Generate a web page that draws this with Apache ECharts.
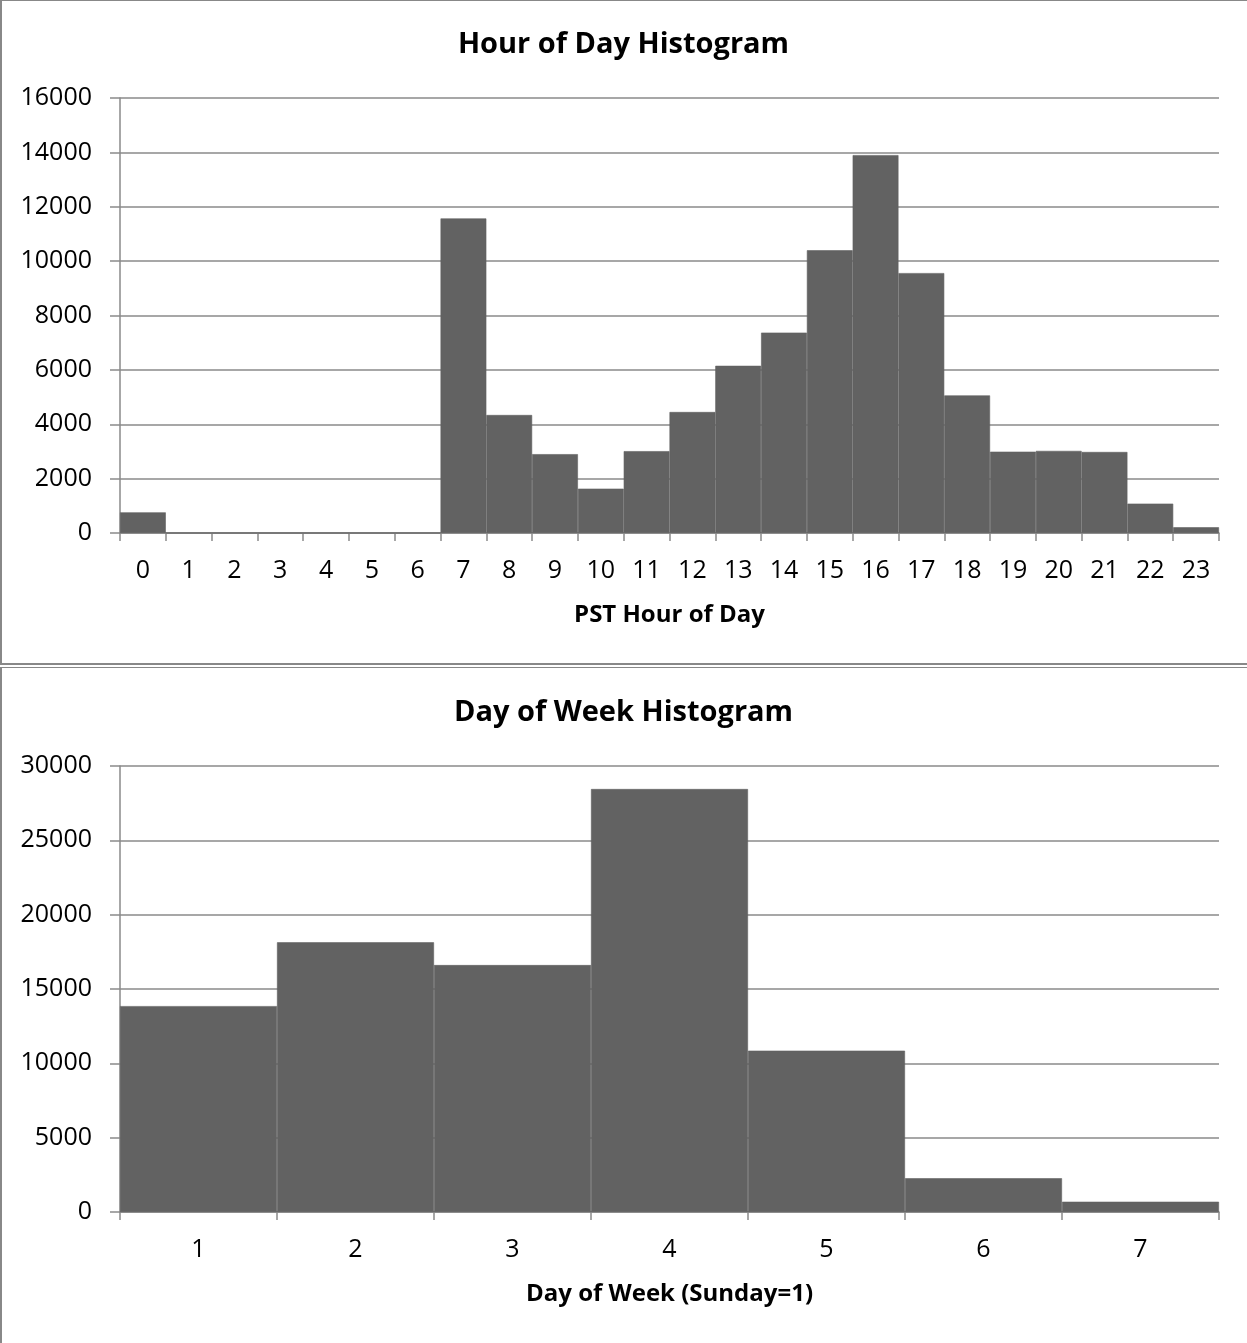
<!DOCTYPE html>
<html>
<head>
<meta charset="utf-8">
<title>Hour of Day / Day of Week Histograms</title>
<script src="https://cdn.jsdelivr.net/npm/echarts@6/dist/echarts.min.js"></script>
<style>
  html, body { margin: 0; padding: 0; background: #fff; }
  body { width: 1247px; height: 1343px; position: relative; overflow: hidden; }
  .frame { position: absolute; left: 0; width: 1300px; border-style: solid; border-color: #888; border-right: none; box-sizing: border-box; }
  #frameTop { top: 0; height: 665px; border-width: 1px 0 2px 2px; }
  #frameBottom { top: 667px; height: 720px; border-width: 1px 0 0 2px; }
  #chart { position: absolute; left: 0; top: 0; width: 1247px; height: 1343px; }
</style>
</head>
<body>
<div class="frame" id="frameTop"></div>
<div class="frame" id="frameBottom"></div>
<div id="chart"></div>
<script>
// Hour-of-day counts (PST)
const hourCategories = ['0','1','2','3','4','5','6','7','8','9','10','11','12','13','14','15','16','17','18','19','20','21','22','23'];
const hourCounts = [760, 0, 0, 0, 0, 0, 0, 11570, 4340, 2900, 1630, 3010, 4450, 6150, 7370, 10400, 13900, 9560, 5060, 2990, 3020, 2980, 1080, 210];

// Day-of-week counts (Sunday = 1)
const dayCategories = ['1','2','3','4','5','6','7'];
const dayCounts = [13850, 18140, 16610, 28450, 10850, 2270, 690];

const FONT = '"Open Sans", "Noto Sans", sans-serif';
const AXIS_GRAY = '#8a8a8a';
const BAR_GRAY = '#626262';

function xAxisFor(gridIndex, data, name) {
  return {
    type: 'category',
    gridIndex: gridIndex,
    data: data,
    name: name,
    nameLocation: 'middle',
    nameGap: 70,
    nameTextStyle: { fontFamily: FONT, fontWeight: 'bold', fontSize: 24, color: '#000' },
    axisLine: { show: true, lineStyle: { color: AXIS_GRAY, width: 1.5 } },
    axisTick: { show: true, length: 8, lineStyle: { color: AXIS_GRAY, width: 1.5 } },
    axisLabel: { fontFamily: FONT, fontSize: 25, color: '#000', margin: 25, interval: 0 },
    splitLine: { show: false }
  };
}

function yAxisFor(gridIndex, max, interval) {
  return {
    type: 'value',
    gridIndex: gridIndex,
    min: 0,
    max: max,
    interval: interval,
    axisLine: { show: true, lineStyle: { color: AXIS_GRAY, width: 1.5 } },
    axisTick: { show: true, inside: false, length: 10, lineStyle: { color: AXIS_GRAY, width: 1.5 } },
    axisLabel: { fontFamily: FONT, fontSize: 25, color: '#000', margin: 28,
      formatter: function (v) { return String(v); } },
    splitLine: { show: true, lineStyle: { color: AXIS_GRAY, width: 1.5 } }
  };
}

// Bars touch each other; a same-colour hairline border hides seams between them
const barStyle = { color: BAR_GRAY, borderColor: BAR_GRAY, borderWidth: 0.6 };

const option = {
  animation: false,
  backgroundColor: 'transparent',
  title: [
    { text: 'Hour of Day Histogram', left: 'center', top: 25,
      textStyle: { fontFamily: FONT, fontWeight: 'bold', fontSize: 29, color: '#000' } },
    { text: 'Day of Week Histogram', left: 'center', top: 693,
      textStyle: { fontFamily: FONT, fontWeight: 'bold', fontSize: 29, color: '#000' } }
  ],
  grid: [
    { left: 120, top: 98, width: 1099, height: 435 },
    { left: 120, top: 766, width: 1099, height: 446 }
  ],
  xAxis: [
    xAxisFor(0, hourCategories, 'PST Hour of Day'),
    xAxisFor(1, dayCategories, 'Day of Week (Sunday=1)')
  ],
  yAxis: [
    yAxisFor(0, 16000, 2000),
    yAxisFor(1, 30000, 5000)
  ],
  series: [
    { type: 'bar', xAxisIndex: 0, yAxisIndex: 0, data: hourCounts, barCategoryGap: 0,
      itemStyle: barStyle },
    { type: 'bar', xAxisIndex: 1, yAxisIndex: 1, data: dayCounts, barCategoryGap: 0,
      itemStyle: barStyle }
  ]
};

const chart = echarts.init(document.getElementById('chart'), null, { renderer: 'canvas' });
chart.setOption(option);
</script>
</body>
</html>
